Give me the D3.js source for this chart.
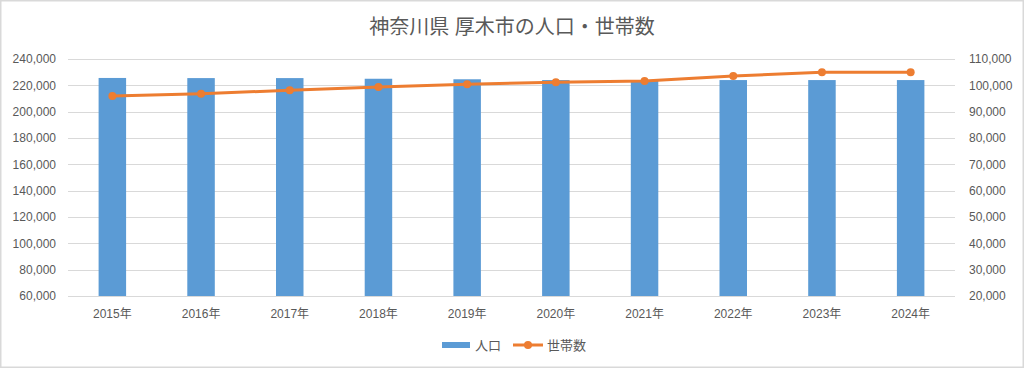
<!DOCTYPE html>
<html>
<head>
<meta charset="utf-8">
<script src="https://cdn.jsdelivr.net/npm/d3@7"></script>
<style>
  html, body { margin: 0; padding: 0; background: #fff; }
  svg { display: block; }
  text { font-family: "Liberation Sans", "Noto Sans CJK JP", sans-serif; fill: #595959; }
</style>
</head>
<body>
<svg id="chart" width="1024" height="368"></svg>
<script>
const title = "神奈川県 厚木市の人口・世帯数";
const years = ["2015年","2016年","2017年","2018年","2019年","2020年","2021年","2022年","2023年","2024年"];
const population = [225600, 225500, 225500, 225000, 224600, 224000, 223500, 224000, 224000, 224000];
const households = [95950, 96850, 98100, 99400, 100400, 101150, 101650, 103550, 104950, 105000];
const leftTicks = [60000, 80000, 100000, 120000, 140000, 160000, 180000, 200000, 220000, 240000];
const rightTicks = [20000, 30000, 40000, 50000, 60000, 70000, 80000, 90000, 100000, 110000];
const seriesNames = ["人口", "世帯数"];

const W = 1024, H = 368;
const plot = { left: 68, right: 955, top: 59, bottom: 296 };
const barColor = "#5B9BD5", lineColor = "#ED7D31", gridColor = "#D9D9D9";
const fmt = d3.format(",");

const svg = d3.select("#chart");

// outer border
svg.append("rect").attr("x", 0.75).attr("y", 0.75).attr("width", W - 1.5).attr("height", H - 1.5)
  .attr("fill", "#fff").attr("stroke", "#D9D9D9").attr("stroke-width", 1.5);

const x = d3.scaleBand().domain(years).range([plot.left, plot.right]).paddingInner(0.69).paddingOuter(0.345);
const yL = d3.scaleLinear().domain([leftTicks[0], leftTicks[leftTicks.length - 1]]).range([plot.bottom, plot.top]);
const yR = d3.scaleLinear().domain([rightTicks[0], rightTicks[rightTicks.length - 1]]).range([plot.bottom, plot.top]);

// gridlines
svg.append("g").selectAll("line").data(leftTicks).join("line")
  .attr("x1", plot.left).attr("x2", plot.right)
  .attr("y1", d => Math.round(yL(d)) + 0.5).attr("y2", d => Math.round(yL(d)) + 0.5)
  .attr("stroke", gridColor).attr("stroke-width", 1);

// left axis
const axL = svg.append("g").attr("transform", `translate(${plot.left},0)`)
  .call(d3.axisLeft(yL).tickValues(leftTicks).tickFormat(fmt).tickSize(0).tickPadding(12));
axL.select(".domain").remove();
axL.selectAll("text").style("font-size", "12px").attr("fill", "#595959");

// right axis
const axR = svg.append("g").attr("transform", `translate(${plot.right},0)`)
  .call(d3.axisRight(yR).tickValues(rightTicks).tickFormat(fmt).tickSize(0).tickPadding(14));
axR.select(".domain").remove();
axR.selectAll("text").style("font-size", "12px").attr("fill", "#595959");

// x axis labels
const axB = svg.append("g").attr("transform", `translate(0,${plot.bottom})`)
  .call(d3.axisBottom(x).tickSize(0).tickPadding(13));
axB.select(".domain").remove();
axB.selectAll("text").style("font-size", "12px").attr("fill", "#595959");

// bars
svg.append("g").selectAll("rect").data(years).join("rect")
  .attr("x", d => x(d)).attr("width", x.bandwidth())
  .attr("y", (d, i) => yL(population[i]))
  .attr("height", (d, i) => plot.bottom - yL(population[i]))
  .attr("fill", barColor);

// line
const line = d3.line().x((d, i) => x(years[i]) + x.bandwidth() / 2).y(d => yR(d));
svg.append("path").datum(households).attr("d", line)
  .attr("fill", "none").attr("stroke", lineColor).attr("stroke-width", 3).attr("stroke-linejoin", "round");
svg.append("g").selectAll("circle").data(households).join("circle")
  .attr("cx", (d, i) => x(years[i]) + x.bandwidth() / 2).attr("cy", d => yR(d))
  .attr("r", 4).attr("fill", lineColor);

// title
svg.append("text").attr("x", 512).attr("y", 34).attr("text-anchor", "middle")
  .style("font-size", "20px").text(title);

// legend
const lg = svg.append("g");
lg.append("rect").attr("x", 442).attr("y", 342).attr("width", 28).attr("height", 6).attr("fill", barColor);
lg.append("text").attr("x", 475).attr("y", 350).style("font-size", "13px").text(seriesNames[0]);
lg.append("line").attr("x1", 513).attr("x2", 543).attr("y1", 345).attr("y2", 345)
  .attr("stroke", lineColor).attr("stroke-width", 3);
lg.append("circle").attr("cx", 528).attr("cy", 345).attr("r", 4).attr("fill", lineColor);
lg.append("text").attr("x", 547).attr("y", 350).style("font-size", "13px").text(seriesNames[1]);
</script>
</body>
</html>
